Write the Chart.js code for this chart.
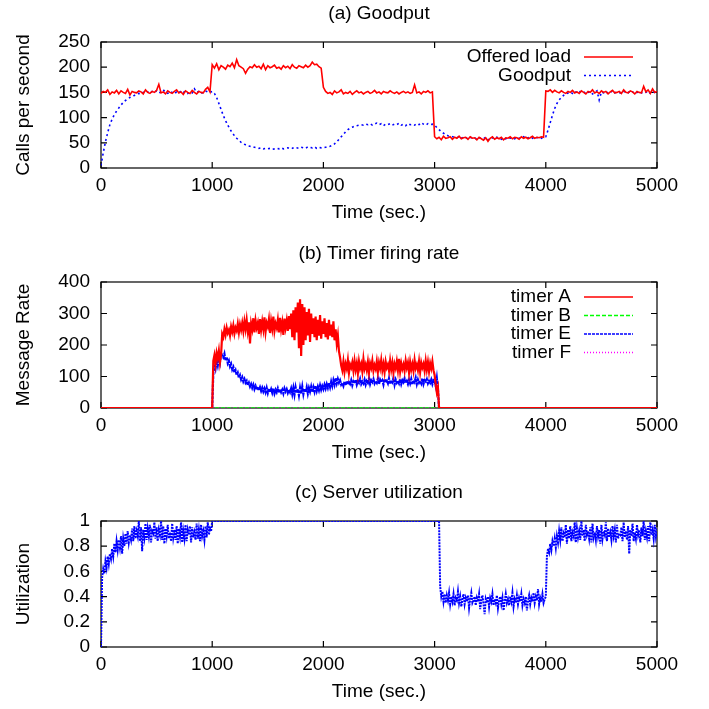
<!DOCTYPE html>
<html>
<head>
<meta charset="utf-8">
<script src="https://cdn.jsdelivr.net/npm/chart.js@4"></script>
<style>
html, body { margin: 0; padding: 0; background: #fff; overflow: hidden; }
#wrap { position: relative; width: 709px; height: 709px; overflow: hidden; }
#wrap canvas { position: absolute; left: 0; }
</style>
</head>
<body>
<div id="wrap">
  <canvas id="chart-a" width="709" height="236" style="top:0px"></canvas>
  <canvas id="chart-b" width="709" height="236" style="top:240px"></canvas>
  <canvas id="chart-c" width="709" height="236" style="top:479px"></canvas>
</div>
<script>
// (a) offered load / goodput, one sample every 20 s from t = 0
const loadStart = 0, loadStep = 20;
const loadValues = [
    148,152,150,155,146,151,149,154,147,153, 150,148,156,145,152,150,149,153,151,147,
    155,150,148,152,150,154,166,149,151,147, 153,150,148,152,155,149,151,146,153,150,
    148,154,150,147,152,150,149,156,160,151,
    205,198,207,195,203,200,196,204,201,208, 199,215,203,200,197,188,196,201,199,205,
    200,202,197,206,195,203,199,201,204,198, 200,196,203,199,202,197,205,200,198,203,
    201,199,204,200,203,210,205,206,201,198,
    160,152,148,150,146,153,149,151,155,147, 150,148,152,146,150,153,149,151,147,150,
    152,148,150,154,149,151,147,152,150,149, 153,150,148,151,147,150,152,149,151,148,
    150,165,149,151,147,152,150,153,149,151,
    62,58,61,56,63,59,60,62,57,61, 59,63,58,60,61,57,62,59,60,56,
    61,58,55,60,53,59,62,57,60,58, 61,56,60,59,62,58,61,60,57,62,
    59,61,58,60,63,59,61,60,62,61,
    153,152,155,150,154,151,149,153,150,148, 152,150,154,149,151,148,153,150,147,152,
    150,155,149,151,148,153,150,152,147,151, 154,149,150,152,148,155,150,149,153,151,
    147,152,150,149,162,151,155,148,157,150, 152
];
const goodputValues = [
    5,30,52,70,86,97,106,113,119,125, 130,134,137,140,142,144,146,148,147,150,
    149,151,148,152,150,153,149,151,155,150, 148,152,150,147,151,149,153,150,152,148,
    151,149,157,150,152,148,150,153,151,150,
    152,148,140,128,116,104,94,85,77,70, 64,59,55,51,48,46,44,43,42,41,
    40,39,40,38,39,38,39,37,38,39, 38,40,38,39,40,38,39,41,40,39,
    41,40,39,42,41,40,42,39,41,40,
    40,41,42,43,45,48,52,57,62,67, 72,76,79,81,83,84,85,86,85,87,
    86,88,85,87,89,86,88,84,87,86, 88,85,87,86,89,85,87,84,88,86,
    87,85,88,86,90,87,85,88,86,87,
    85,80,76,72,69,66,64,63,62,61, 60,62,59,61,60,58,61,59,60,57,
    60,59,58,61,56,59,60,58,61,59, 57,60,58,61,59,60,58,61,59,60,
    62,58,60,61,59,62,60,61,59,62,
    62,75,90,105,118,128,135,140,144,147, 149,151,148,152,150,153,149,151,148,150,
    152,147,150,153,135,151,149,152,148,150, 153,149,151,150,148,152,150,149,153,151,
    148,150,152,149,151,150,153,148,151,150, 149
];

// (b) timer firing rate, active part sampled every 10 s from t = 1000, zero elsewhere
const timerStart = 1000, timerStep = 10;
const timerAValues = [
    0,
    150,168,140,175,158,182,145,170,
    235,
    225,250,232,255,238,248,230,258,242,262,236,255,245,268,240,265,248,270,244,275,250,
    280,245,272,205,268,250,285,240,278,255,270,235,282,248,275,250,288,242,270,258,
    282,238,276,252,290,245,268,255,280,240,286,250,272,232,284,255,278,245,292,250,
    300,225,310,215,320,240,335,190,345,165,330,200,320,215,305,230,315,210,300,235,
    285,225,290,215,280,230,295,220,275,235,285,225,270,218,280,230,265,225,275,215,
    250,205,230,180,160,135,
    120,148,115,140,125,152,112,138,128,145,118,150,122,142,110,148,126,140,116,155,
    124,138,120,146,112,142,128,150,118,136,124,148,115,144,126,152,120,140,114,147,
    128,138,118,150,122,144,112,140,126,148,120,156,116,142,124,138,118,150,128,144,
    112,146,122,140,118,152,126,138,120,148,114,144,128,140,118,150,122,146,116,142,
    126,148,120,
    105,75,50,65,0
];
const timerEValues = [
    0,
    110,140,125,150,135,160,145,175,
    165,
    160,172,150,162,142,150,132,140,122,130,112,120,104,112,96,104,90,98,84,92,80,
    86,72,80,68,76,64,74,60,70,58,68,56,66,54,64,52,62,50,64,48,
    62,50,60,48,62,46,58,50,62,48,60,50,58,46,62,52,60,48,58,50,
    62,44,64,42,66,48,60,40,64,46,68,44,62,50,66,46,64,52,68,50,
    66,52,70,54,68,56,72,58,70,60,74,62,76,64,80,66,84,70,88,74,
    95,78,92,80,88,74,
    80,70,84,72,86,74,82,76,88,72,84,78,90,74,86,80,92,76,84,78,
    90,74,86,80,94,76,88,82,92,78,86,80,94,76,90,82,88,74,92,80,
    86,78,94,76,88,82,96,74,90,80,86,78,92,76,88,82,94,80,86,76,
    90,78,92,74,88,82,96,76,90,80,86,78,94,76,88,84,92,78,86,80,
    90,76,88,
    85,70,95,60,0
];
const timerBValues = [0, 0];
const timerFValues = [0, 0];
const timerFlatTimes = [0, 5000];

// (c) server utilization, every 10 s; saturated (1.0) between 1000 and 3040
const utilHeadStart = 0, utilStep = 10;
const utilHead = [
    0,0.55,0.62,0.58,0.68,0.63,0.72,0.66,0.74,0.70,
    0.78,0.72,0.82,0.75,0.84,0.77,0.85,0.79,0.88,0.74,
    0.86,0.80,0.90,0.82,0.92,0.83,0.89,0.85,0.94,0.84,
    0.96,0.86,0.92,0.88,1.0,0.84,0.95,0.76,0.93,0.87,
    0.98,0.85,0.94,0.88,0.97,0.83,0.92,0.90,0.99,0.86,
    0.95,0.84,0.93,0.89,1.0,0.85,0.96,0.82,0.94,0.88,
    0.97,0.86,0.91,0.84,0.98,0.87,0.93,0.85,0.96,0.82,
    0.94,0.88,0.99,0.83,0.92,0.86,0.97,0.84,0.93,0.89,
    0.96,0.83,0.95,0.87,0.91,0.85,0.98,0.86,0.93,0.84,
    0.97,0.88,0.92,0.85,0.96,0.87,0.99,0.89,0.94,0.92,
    1.0
];
const utilPlateauEnd = 3040, utilPlateauValue = 1.0;
const utilLowStart = 3050;
const utilLow = [
    0.48,0.40,0.44,0.36,0.42,0.35,0.41,0.37,0.43,0.34,
    0.40,0.36,0.42,0.33,0.39,0.37,0.44,0.35,0.40,0.32,
    0.38,0.42,0.34,0.39,0.36,0.41,0.31,0.38,0.43,0.35,
    0.37,0.40,0.33,0.39,0.36,0.42,0.30,0.37,0.41,0.34,
    0.26,0.38,0.35,0.40,0.32,0.39,0.36,0.42,0.33,0.38,
    0.35,0.41,0.31,0.37,0.40,0.34,0.39,0.29,0.36,0.42,
    0.35,0.38,0.33,0.40,0.36,0.43,0.32,0.38,0.35,0.41,
    0.34,0.39,0.36,0.42,0.33,0.38,0.35,0.40,0.29,0.37,
    0.41,0.34,0.39,0.36,0.43,0.35,0.40,0.37,0.46,0.34,
    0.39,0.36,0.42,0.35,0.38,0.40
];
const utilTailStart = 4010;
const utilTail = [
    0.72,0.78,0.75,0.82,0.77,0.84,0.80,0.86,0.79,0.88,
    0.83,0.92,0.85,0.95,0.84,0.90,0.87,0.97,0.82,0.93,
    0.86,0.96,0.84,0.91,0.88,0.99,0.83,0.94,0.87,0.92,
    0.85,1.0,0.88,0.93,0.84,0.97,0.89,0.92,0.86,0.95,
    0.83,0.98,0.87,0.91,0.85,0.96,0.88,0.93,0.82,0.97,
    0.86,0.92,0.89,0.99,0.84,0.94,0.87,0.91,0.85,0.96,
    0.88,0.93,0.83,0.97,0.86,0.90,0.89,0.95,0.84,0.99,
    0.87,0.92,0.85,0.96,0.74,0.93,0.88,0.98,0.84,0.91,
    0.86,0.97,0.89,0.93,0.83,0.95,0.88,1.0,0.85,0.92,
    0.87,0.96,0.84,0.99,0.89,0.93,0.86,0.97,0.88,0.94
];

const FONT = '"Liberation Sans", Arial, Helvetica, sans-serif';
const FONT_SIZE = 19;
Chart.defaults.font.family = FONT;
Chart.defaults.font.size = FONT_SIZE;
Chart.defaults.color = '#000';

function toPoints(start, step, values) {
    return values.map((v, i) => ({ x: start + i * step, y: v }));
}

function plainTick(v) {
    return String(Math.round(v * 100) / 100);
}

// gnuplot style box with inward ticks on all four sides, title over the plot
const framePlugin = {
    id: 'gpFrame',
    beforeDatasetsDraw(chart, args, opts) {
        const { ctx, chartArea: a, scales: { x, y } } = chart;
        ctx.save();
        ctx.strokeStyle = '#000';
        ctx.lineWidth = 1.2;
        ctx.strokeRect(a.left, a.top, a.right - a.left, a.bottom - a.top);
        ctx.beginPath();
        x.ticks.forEach(t => {
            const px = x.getPixelForValue(t.value);
            ctx.moveTo(px, a.bottom); ctx.lineTo(px, a.bottom - 6);
            ctx.moveTo(px, a.top); ctx.lineTo(px, a.top + 6);
        });
        y.ticks.forEach(t => {
            const py = y.getPixelForValue(t.value);
            ctx.moveTo(a.left, py); ctx.lineTo(a.left + 6, py);
            ctx.moveTo(a.right, py); ctx.lineTo(a.right - 6, py);
        });
        ctx.stroke();

        ctx.fillStyle = '#000';
        ctx.font = FONT_SIZE + 'px ' + FONT;
        ctx.textAlign = 'center';
        ctx.textBaseline = 'middle';
        ctx.fillText(opts.text, (a.left + a.right) / 2, opts.y);
        ctx.restore();
    }
};

// legend with right aligned text and the line sample to its right
const legendPlugin = {
    id: 'gpLegend',
    afterDatasetsDraw(chart, args, opts) {
        if (!opts.show) return;
        const ctx = chart.ctx;
        ctx.save();
        ctx.font = FONT_SIZE + 'px ' + FONT;
        ctx.textAlign = 'right';
        ctx.textBaseline = 'middle';
        chart.data.datasets.forEach((ds, i) => {
            const y = opts.top + i * opts.rowHeight;
            ctx.fillStyle = '#000';
            ctx.fillText(ds.label, opts.textRight, y);
            ctx.strokeStyle = ds.borderColor;
            ctx.lineWidth = 1.5;
            ctx.setLineDash(ds.borderDash || []);
            ctx.beginPath();
            ctx.moveTo(opts.lineStart, y);
            ctx.lineTo(opts.lineEnd, y);
            ctx.stroke();
        });
        ctx.restore();
    }
};

function makeChart(id, title, yTitle, yMax, yStep, showLegend, datasets) {
    const ctx = document.getElementById(id).getContext('2d');
    return new Chart(ctx, {
        type: 'line',
        data: { datasets: datasets },
        options: {
            responsive: false,
            animation: false,
            events: [],
            parsing: false,
            layout: { padding: { left: 0, right: 52, top: 42, bottom: 0 } },
            elements: { point: { radius: 0 }, line: { tension: 0 } },
            scales: {
                x: {
                    type: 'linear',
                    min: 0,
                    max: 5000,
                    ticks: { stepSize: 1000, padding: 6, maxRotation: 0, autoSkip: false, callback: plainTick },
                    grid: { display: false, drawTicks: false },
                    border: { display: false },
                    title: { display: true, text: 'Time (sec.)', padding: { top: 0, bottom: 12 } },
                    afterFit: s => { s.height = 68; }
                },
                y: {
                    min: 0,
                    max: yMax,
                    ticks: { stepSize: yStep, padding: 11, autoSkip: false, callback: plainTick },
                    grid: { display: false, drawTicks: false },
                    border: { display: false },
                    title: { display: true, text: yTitle, padding: { top: 12, bottom: 0 } },
                    afterFit: s => { s.width = 101; }
                }
            },
            plugins: {
                legend: { display: false },
                tooltip: { enabled: false },
                title: { display: false },
                gpFrame: { text: title, y: 14 },
                gpLegend: { show: showLegend, top: 57, rowHeight: 18.5, textRight: 571, lineStart: 584, lineEnd: 633 }
            }
        },
        plugins: [framePlugin, legendPlugin]
    });
}

document.addEventListener('DOMContentLoaded', function () {
    makeChart('chart-a', '(a) Goodput', 'Calls per second', 250, 50, true, [
        {
            label: 'Offered load',
            data: toPoints(loadStart, loadStep, loadValues),
            borderColor: '#ff0000',
            borderWidth: 1.6
        },
        {
            label: 'Goodput',
            data: toPoints(loadStart, loadStep, goodputValues),
            borderColor: '#0000ff',
            borderWidth: 1.6,
            borderDash: [2, 3]
        }
    ]);

    const flatB = timerFlatTimes.map((t, i) => ({ x: t, y: timerBValues[i] }));
    const flatF = timerFlatTimes.map((t, i) => ({ x: t, y: timerFValues[i] }));
    makeChart('chart-b', '(b) Timer firing rate', 'Message Rate', 400, 100, true, [
        {
            label: 'timer A',
            data: [{ x: 0, y: 0 }, ...toPoints(timerStart, timerStep, timerAValues), { x: 5000, y: 0 }],
            borderColor: '#ff0000',
            borderWidth: 2.2
        },
        {
            label: 'timer B',
            data: flatB,
            borderColor: '#00ff00',
            borderWidth: 1.5,
            borderDash: [4, 2]
        },
        {
            label: 'timer E',
            data: [{ x: 0, y: 0 }, ...toPoints(timerStart, timerStep, timerEValues), { x: 5000, y: 0 }],
            borderColor: '#0000ff',
            borderWidth: 2.2,
            borderDash: [3, 1]
        },
        {
            label: 'timer F',
            data: flatF,
            borderColor: '#ff00ff',
            borderWidth: 1.5,
            borderDash: [1, 2]
        }
    ]);

    const utilPoints = [
        ...toPoints(utilHeadStart, utilStep, utilHead),
        { x: utilPlateauEnd, y: utilPlateauValue },
        ...toPoints(utilLowStart, utilStep, utilLow),
        ...toPoints(utilTailStart, utilStep, utilTail)
    ];
    makeChart('chart-c', '(c) Server utilization', 'Utilization', 1, 0.2, false, [
        {
            label: 'Utilization',
            data: utilPoints,
            borderColor: '#0000ff',
            borderWidth: 2,
            borderDash: [2, 1]
        }
    ]);
});
</script>
</body>
</html>
